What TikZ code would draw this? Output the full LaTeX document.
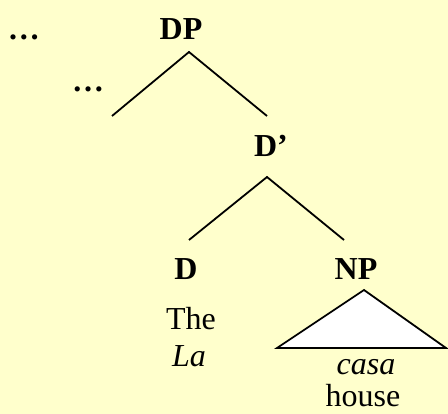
\documentclass[tikz,border=0pt]{standalone}
\usepackage{fontspec}
\setmainfont{Liberation Serif}
\definecolor{bgyellow}{HTML}{FFFFCC}
\begin{document}
\begin{tikzpicture}[x=1pt,y=-1pt,
  lab/.style={font=\fontsize{32}{36}\selectfont\bfseries, inner sep=0pt, anchor=base},
  word/.style={font=\fontsize{32}{36}\selectfont, inner sep=0pt, anchor=base},
  branch/.style={line width=1.8pt},
  tri/.style={line width=1.8pt, fill=white, line join=miter}]
\fill[bgyellow] (0,0) rectangle (448,414);
\useasboundingbox (0,0) rectangle (448,414);
\node[lab] (dots1) at (24,40) {\dots};
\node[lab] (dp) at (181,40) {DP};
\node[lab] (dots2) at (88,92) {\dots};
\node[lab] (dbar) at (271,157) {D’};
\node[lab] (d) at (186,280) {D};
\node[lab] (np) at (356,280) {NP};
\node[word] (the) at (191,330) {The};
\node[word] (la) at (189,367) {\itshape La};
\node[word] (casa) at (366,375) {\itshape casa};
\node[word] (house) at (363,407) {house};
\coordinate (dpA) at (189,52);
\coordinate (dpL) at (112,116);
\coordinate (dpR) at (267,116);
\coordinate (dbA) at (267,177);
\coordinate (dbL) at (189,240);
\coordinate (dbR) at (344,240);
\coordinate (npA) at (364,290);
\coordinate (npL) at (277,348);
\coordinate (npR) at (446,348);
\draw[branch] (dpL) -- (dpA) -- (dpR);
\draw[branch] (dbL) -- (dbA) -- (dbR);
\draw[tri] (npA) -- (npL) -- (npR) -- cycle;
\end{tikzpicture}
\end{document}
